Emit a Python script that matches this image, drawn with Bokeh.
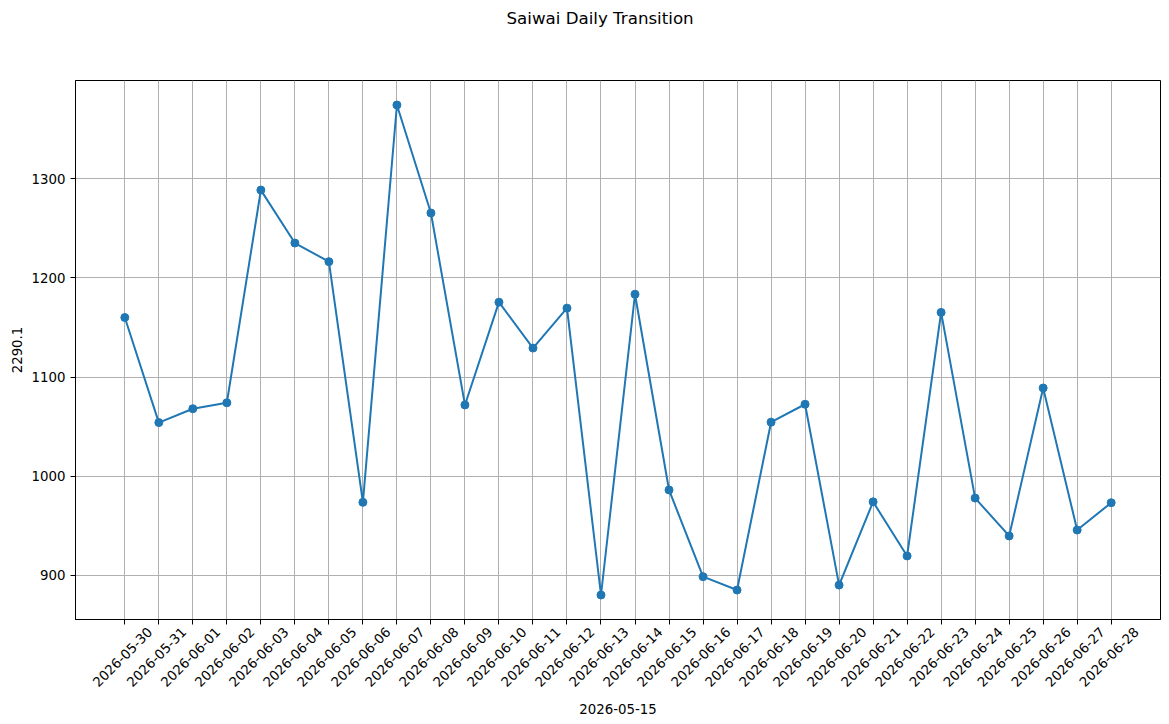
import math
from bokeh.plotting import figure
from bokeh.models import Range1d, FixedTicker, ColumnDataSource, LinearAxis
from bokeh.embed import file_html
from bokeh.resources import INLINE

dates = ["2026-05-30", "2026-05-31", "2026-06-01", "2026-06-02", "2026-06-03",
         "2026-06-04", "2026-06-05", "2026-06-06", "2026-06-07", "2026-06-08",
         "2026-06-09", "2026-06-10", "2026-06-11", "2026-06-12", "2026-06-13",
         "2026-06-14", "2026-06-15", "2026-06-16", "2026-06-17", "2026-06-18",
         "2026-06-19", "2026-06-20", "2026-06-21", "2026-06-22", "2026-06-23",
         "2026-06-24", "2026-06-25", "2026-06-26", "2026-06-27", "2026-06-28"]
values = [1160, 1054, 1068, 1074, 1288.6,
          1235.2, 1216.4, 973.5, 1374.5, 1265.5,
          1071.8, 1175.5, 1129.2, 1169.5, 880.0,
          1183.5, 986.0, 898.5, 885.0, 1054.4,
          1072.5, 890.0, 974.0, 919.4, 1165.2,
          977.8, 939.6, 1088.9, 945.6, 973.1]
title_text = "Saiwai Daily Transition"
x_label = "2026-05-15"
y_label = "2290.1"
y_ticks = [900, 1000, 1100, 1200, 1300]

idx = list(range(len(dates)))
src = ColumnDataSource(dict(x=idx, y=values))

n = len(dates)
xpad = 0.05 * (n - 1)
ymin, ymax = min(values), max(values)
ypad = 0.05 * (ymax - ymin)

FONT = "DejaVu Sans"
FS = "13.33px"
FRAME_W = 1085
x_start, x_end = -xpad, n - 1 + xpad
label_shift = 25 * (x_end - x_start) / FRAME_W   # pixels -> data units

p = figure(width=1169, height=724, output_backend="svg", toolbar_location=None,
           x_range=Range1d(x_start, x_end),
           y_range=Range1d(ymin - ypad, ymax + ypad),
           min_border_left=75, min_border_right=9, min_border_top=80, min_border_bottom=105)
p.frame_width = FRAME_W
p.frame_height = 539
p.extra_x_ranges = {"labels": Range1d(x_start - label_shift, x_end - label_shift)}

main_x = p.below[0]
main_y = p.left[0]

# invisible spacer above the frame, so that the title sits near the top
spacer = LinearAxis(ticker=FixedTicker(ticks=idx), axis_line_color=None,
                    major_label_overrides={i: "" for i in idx},
                    major_tick_line_color=None, minor_tick_line_color=None,
                    major_tick_out=48, major_tick_in=0, major_label_standoff=0)
p.add_layout(spacer, "above")

p.title.text = title_text
p.title.text_font = FONT
p.title.text_font_size = "16.67px"
p.title.text_font_style = "normal"
p.title.text_color = "black"
p.title.align = "left"
p.title.offset = 431

p.line("x", "y", source=src, line_color="#1f77b4", line_width=2)
p.scatter("x", "y", source=src, size=8, fill_color="#1f77b4", line_color="#1f77b4")

# main x axis: tick marks only
main_x.ticker = FixedTicker(ticks=idx)
main_x.major_label_overrides = {i: "" for i in idx}
main_x.major_label_standoff = 0

# second x axis: rotated date labels, shifted to be centred under ticks
lab_axis = LinearAxis(x_range_name="labels", ticker=FixedTicker(ticks=idx),
                      major_label_overrides={i: d for i, d in enumerate(dates)},
                      major_label_orientation=math.pi / 4,
                      axis_line_color=None, major_tick_line_color=None,
                      minor_tick_line_color=None, major_tick_out=0, major_tick_in=0,
                      major_label_standoff=5,
                      major_label_text_font=FONT, major_label_text_font_size=FS,
                      major_label_text_color="black",
                      axis_label=x_label, axis_label_text_font=FONT,
                      axis_label_text_font_size=FS, axis_label_text_font_style="normal",
                      axis_label_text_color="black", axis_label_standoff=10)
p.add_layout(lab_axis, "below")

main_y.ticker = FixedTicker(ticks=y_ticks)
main_y.axis_label = y_label
main_y.axis_label_text_font = FONT
main_y.axis_label_text_font_size = FS
main_y.axis_label_text_font_style = "normal"
main_y.axis_label_text_color = "black"
main_y.major_label_text_font = FONT
main_y.major_label_text_font_size = FS
main_y.major_label_text_color = "black"
main_y.major_label_standoff = 5
main_y.axis_label_standoff = 7

for ax in (main_x, main_y):
    ax.axis_line_color = "black"
    ax.major_tick_line_color = "black"
    ax.major_tick_out = 5
    ax.major_tick_in = 0
    ax.minor_tick_line_color = None

p.outline_line_color = "black"
p.outline_line_width = 1
p.grid.grid_line_color = "#b0b0b0"
p.grid.grid_line_width = 1
p.background_fill_color = "white"
p.border_fill_color = "white"

open("out.html", "w").write(file_html(p, INLINE))
